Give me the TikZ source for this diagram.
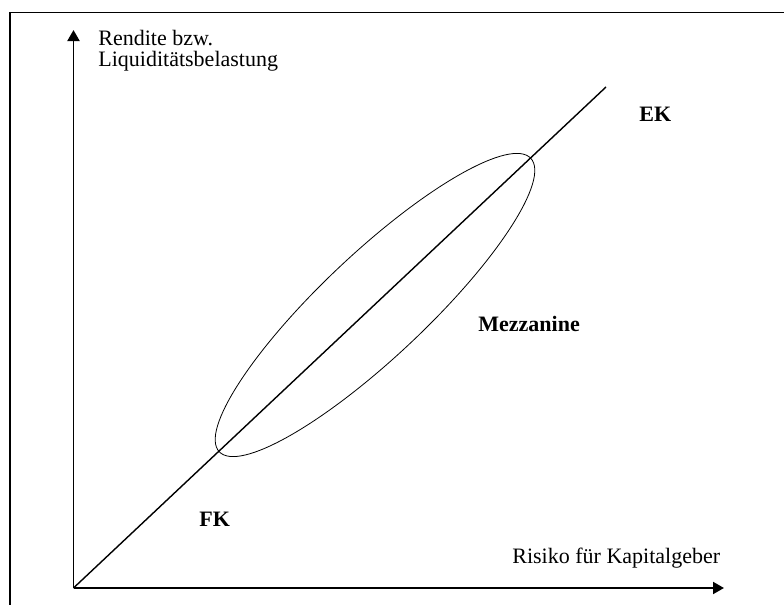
\documentclass[tikz,border=0pt]{standalone}
\usepackage{fontspec}
\setmainfont{Liberation Serif}
\usetikzlibrary{arrows.meta,shapes.geometric}
\begin{document}
\begin{tikzpicture}[x=0.5pt,y=-0.5pt,
  axis/.style={line width=0.95pt,-{Triangle[length=5.5pt,width=6pt]}},
  lbl/.style={anchor=base west,inner sep=0pt,font=\fontsize{11}{13}\selectfont},
  blbl/.style={lbl,font=\fontsize{11}{13}\selectfont\bfseries}]
\useasboundingbox (0,0) rectangle (784,605);
% frame
\coordinate (fbl) at (10,610);
\coordinate (ftl) at (10,12.5);
\coordinate (ftr) at (790,12.5);
\draw[line width=0.75pt] (fbl) -- (ftl) -- (ftr);
% axes
\coordinate (o) at (73.5,588);
\coordinate (ytip) at (73.5,30);
\coordinate (xtip) at (724,588);
\draw[axis] (o) -- (ytip);
\draw[axis] (o) -- (xtip);
% diagonal
\coordinate (dend) at (606,87);
\draw[line width=0.7pt] (o) -- (dend);
% ellipse
\node[draw,ellipse,line width=0.4pt,minimum width=214pt,minimum height=52pt,
      inner sep=0pt,rotate=43.3] (mez) at (375,305) {};
% labels
\node[lbl] (yl1) at (98,46) {Rendite bzw.};
\node[lbl] (yl2) at (98,67) {Liquiditätsbelastung};
\node[lbl] (xl) at (512,563) {Risiko für Kapitalgeber};
\node[blbl] (ek) at (639,121) {EK};
\node[blbl] (mz) at (478,331) {Mezzanine};
\node[blbl] (fk) at (199,526) {FK};
\end{tikzpicture}
\end{document}
